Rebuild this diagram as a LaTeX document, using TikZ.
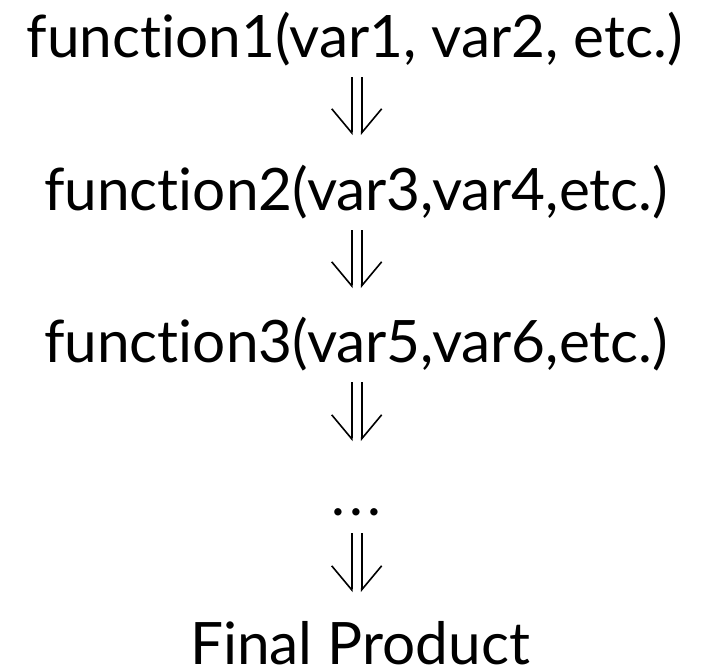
\documentclass[tikz,border=0pt]{standalone}
\usepackage{fontspec}
\setmainfont{Lato}[Ligatures={NoCommon,NoRare}]
\usetikzlibrary{arrows.meta}
\tikzset{
  label text/.style={anchor=base, inner sep=0pt, font=\fontsize{58.5}{60}\selectfont},
  rail/.style={line width=1.6pt, line cap=butt},
  rail left/.style={rail, -{Straight Barb[right, length=24pt, width=40pt, line width=1.6pt]}},
  rail right/.style={rail, -{Straight Barb[left, length=24pt, width=40pt, line width=1.6pt]}}
}
\newcommand{\flowarrow}[2]{%
  \draw[rail left]  ([xshift=-5pt]#1) -- ([xshift=-5pt]#2);
  \draw[rail right] ([xshift=5pt]#1) -- ([xshift=5pt]#2);
}
\begin{document}
\begin{tikzpicture}[x=1pt, y=1pt]
  \useasboundingbox (0,0) rectangle (709,-670);

  \node[label text] (f1) at (354.5,-57) {function1(var1, var2, etc.)};
  \node[label text] (f2) at (356,-210) {function2(var3,var4,etc.)};
  \node[label text] (f3) at (356,-362) {function3(var5,var6,etc.)};
  \node[label text] (dots) at (356.7,-515) {.\kern4pt.\kern4pt.};
  \node[label text] (final) at (360,-664) {Final Product};

  \coordinate (a1s) at (356.7,-77);  \coordinate (a1e) at (356.7,-135);
  \coordinate (a2s) at (356.7,-230); \coordinate (a2e) at (356.7,-288);
  \coordinate (a3s) at (356.7,-382); \coordinate (a3e) at (356.7,-441);
  \coordinate (a4s) at (356.7,-533); \coordinate (a4e) at (356.7,-592);

  \flowarrow{a1s}{a1e}
  \flowarrow{a2s}{a2e}
  \flowarrow{a3s}{a3e}
  \flowarrow{a4s}{a4e}
\end{tikzpicture}
\end{document}
